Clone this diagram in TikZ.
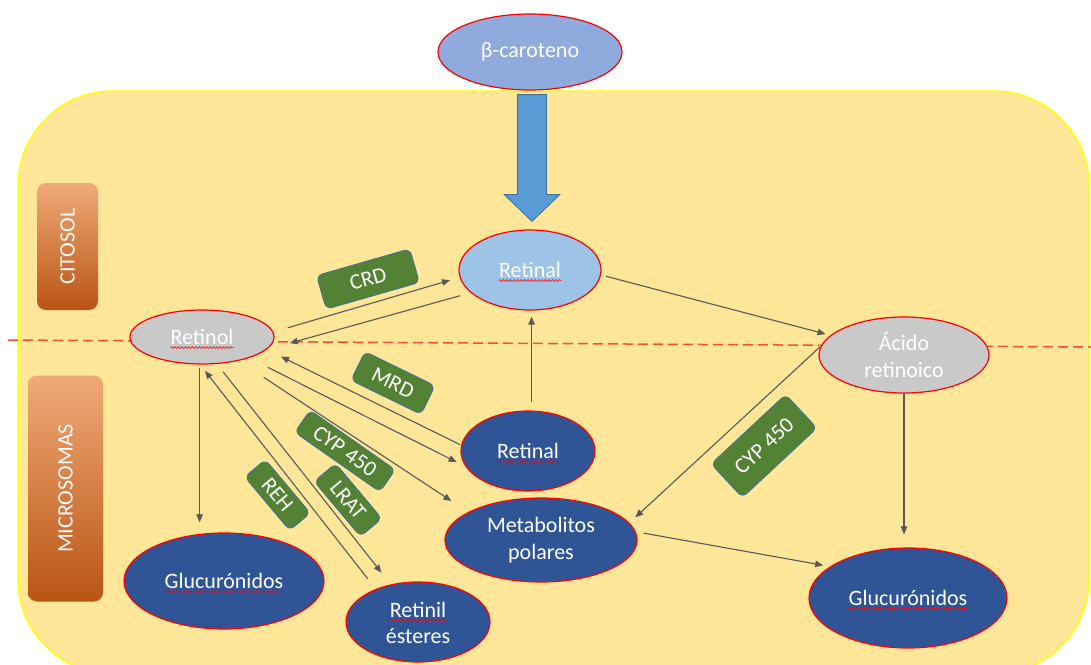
\documentclass[tikz,border=0pt]{standalone}
\usepackage{fontspec}
\setmainfont{Carlito}
\usetikzlibrary{shapes.geometric,calc,decorations.pathmorphing,arrows.meta}

\definecolor{cellfill}{HTML}{FFE699}
\definecolor{cellline}{HTML}{FFFF00}
\definecolor{betafill}{HTML}{8FAADC}
\definecolor{retfill}{HTML}{9DC3E6}
\definecolor{grayfill}{HTML}{C9C9C9}
\definecolor{darkfill}{HTML}{2F5597}
\definecolor{tagfill}{HTML}{548235}
\definecolor{tagedge}{HTML}{41719C}
\definecolor{arrowgray}{HTML}{595959}
\definecolor{blockfill}{HTML}{5B9BD5}
\definecolor{blockedge}{HTML}{41719C}
\definecolor{sepred}{HTML}{F8502E}
\definecolor{orTop}{HTML}{F0AA78}
\definecolor{orMid}{HTML}{ED7D31}
\definecolor{orBot}{HTML}{B95514}

\begin{document}
\begin{tikzpicture}[x=1pt,y=-1pt,
  ell/.style={ellipse, draw=red, line width=1.2pt, inner sep=0pt},
  txt/.style={text=white, inner sep=0pt, font=\fontsize{22}{27}\selectfont},
  squig/.style={draw=red, line width=0.6pt, decorate,
    decoration={snake, amplitude=0.9pt, segment length=3.5pt}},
  arr/.style={draw=arrowgray, line width=1.1pt,
    -{Triangle[length=8pt,width=6.5pt]}},
  tag/.style={rectangle, draw=tagedge, line width=0.8pt, fill=tagfill,
    rounded corners=6pt, text=white, inner sep=0pt,
    font=\fontsize{22}{27}\selectfont},
  compart/.style={rectangle, rounded corners=9pt, draw=none,
    top color=orTop, middle color=orMid, bottom color=orBot},
  sideword/.style={text=white, inner sep=0pt, rotate=90,
    font=\fontsize{22}{27}\selectfont}
]
\useasboundingbox (0,0) rectangle (1091,664);
\fill[white] (0,0) rectangle (1091,664);

% cell body
\draw[draw=cellline, fill=cellfill, line width=1.5pt, rounded corners=95pt]
  (18,91) rectangle (1089,674);

% compartment tabs
\node[compart, minimum width=61pt, minimum height=127pt] (cit) at (67.5,246.5) {};
\node[sideword] (citT) at (cit) {CITOSOL};
\node[compart, minimum width=75pt, minimum height=226pt] (mic) at (65.5,488.5) {};
\node[sideword] (micT) at (mic) {MICROSOMAS};

% cytosol / microsome boundary
\draw[sepred, line width=1.5pt, dash pattern=on 10pt off 5pt] (8,340) -- (1091,347);

% metabolites
\node[ell, fill=betafill, minimum width=184pt, minimum height=76pt] (beta) at (530,52) {};
\node[ell, fill=retfill, minimum width=142pt, minimum height=80pt] (retT) at (530,270) {};
\node[ell, fill=grayfill, minimum width=144pt, minimum height=54pt] (retinol) at (202,337) {};
\node[ell, fill=grayfill, minimum width=170pt, minimum height=76pt] (acido) at (904,355) {};
\node[ell, fill=darkfill, minimum width=134pt, minimum height=80pt] (retB) at (528,451) {};
\node[ell, fill=darkfill, minimum width=192pt, minimum height=84pt] (meta) at (541,540) {};
\node[ell, fill=darkfill, minimum width=200pt, minimum height=96pt] (glucL) at (224,581) {};
\node[ell, fill=darkfill, minimum width=144pt, minimum height=80pt] (ester) at (418,622) {};
\node[ell, fill=darkfill, minimum width=198pt, minimum height=100pt] (glucR) at (908,598) {};

% labels
\node[txt] (betaT) at (beta) {β-caroteno};
\node[txt] (retTT) at (retT) {Retinal};
\node[txt] (retinolT) at (retinol) {Retinol};
\node[txt, align=center] (acidoT) at (acido) {Ácido\\retinoico};
\node[txt] (retBT) at (retB) {Retinal};
\node[txt, align=center] (metaT) at (meta) {Metabolitos\\polares};
\node[txt] (glucLT) at (glucL) {Glucurónidos};
\node[txt] (esterA) at ([yshift=12.5pt]ester.center) {Retinil};
\node[txt] (esterB) at ([yshift=-14pt]ester.center) {ésteres};
\node[txt] (glucRT) at (glucR) {Glucurónidos};

% spell-check squiggles
\foreach \w in {retTT, retinolT, retBT, glucLT, esterA, glucRT}
  \draw[squig] ([yshift=-3pt]\w.base west) -- ([yshift=-3pt]\w.base east);

% carotene cleavage block arrow
\coordinate (bA) at ($(beta.south)+(2,4)$);
\coordinate (bB) at ($(retT.north)+(2,-8)$);
\draw[fill=blockfill, draw=blockedge, line width=0.8pt]
  ($(bA)+(-14.5,0)$) -- ($(bA)+(14.5,0)$) -- ($(bB)+(14.5,-27)$)
  -- ($(bB)+(28,-27)$) -- (bB) -- ($(bB)+(-28,-27)$)
  -- ($(bB)+(-14.5,-27)$) -- cycle;

% reactions
\draw[arr, shorten <=15pt, shorten >=10pt] (retinol.4) -- (retT.186);
\draw[arr, shorten <=11pt, shorten >=24pt] (retT.201) -- (retinol.-11);
\draw[arr, shorten <=1pt, shorten >=16pt] (retB.175) -- (retinol.-11);
\draw[arr, shorten <=21pt, shorten >=10pt] (retinol.-24) -- (retB.194);
\draw[arr, shorten <=30pt, shorten >=20pt] (retinol.-33) -- (meta.159);
\draw[arr, shorten <=3pt, shorten >=10pt] (retinol.-95) -- (retinol.-95 |- glucL.north);
\draw[arr, shorten <=13pt, shorten >=8pt] (ester.142) -- (retinol.-94);
\draw[arr, shorten <=10pt, shorten >=15pt] (retinol.-61) -- (ester.126);
\draw[arr, shorten <=8pt, shorten >=6pt] (retB.85) -- (retB.85 |- retT.south);
\draw[arr, shorten <=5pt, shorten >=5pt] (retT.-4) -- (acido.165);
\draw[arr, shorten <=1pt, shorten >=8pt] (acido.174) -- (meta.11);
\draw[arr, shorten <=8pt, shorten >=7pt] (meta.5) -- (glucR.158);
\draw[arr, shorten >=13pt] (acido.south) -- (acido.south |- glucR.north);

% enzymes
\node[tag, minimum width=97pt, minimum height=35pt, rotate=16] (crd) at (368,279) {CRD};
\node[tag, minimum width=78pt, minimum height=32pt, rotate=-26] (mrd) at (393,383) {MRD};
\node[tag, minimum width=104pt, minimum height=27pt, rotate=-35] (cypL) at (345,451) {CYP 450};
\node[tag, minimum width=70pt, minimum height=27pt, rotate=-50] (reh) at (277.5,495) {REH};
\node[tag, minimum width=72pt, minimum height=28pt, rotate=-50] (lrat) at (348,500) {LRAT};
\node[tag, minimum width=102pt, minimum height=46pt, rotate=43] (cypR) at (764,446) {CYP 450};
\end{tikzpicture}
\end{document}
